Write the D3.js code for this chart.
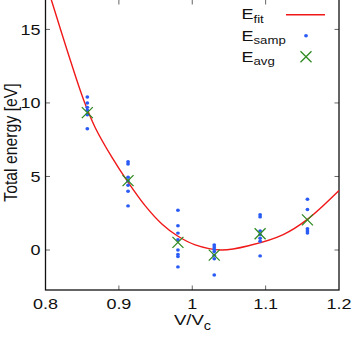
<!DOCTYPE html>
<html>
<head>
<meta charset="utf-8">
<script src="https://cdn.jsdelivr.net/npm/d3@7"></script>
<style>
  body { margin: 0; background: #fff; }
  svg { display: block; font-family: "Liberation Sans", Arial, sans-serif; }
</style>
</head>
<body>
<svg id="chart" width="354" height="338"></svg>
<script>
// volumes (V/Vc) where the samples were taken
const volumes = [0.857, 0.9125, 0.9805, 1.03, 1.0925, 1.157]

// sampled energies, one list per volume
const sampleE = [
  [10.4, 10.0, 9.7, 9.5, 9.2, 8.25],
  [6.0, 5.85, 4.95, 4.7, 4.4, 4.0, 3.0],
  [2.7, 1.65, 1.15, 0.7, 0.0, -0.3, -0.45, -1.15],
  [0.35, 0.2, 0.05, -0.1, -0.35, -0.6, -1.7],
  [2.4, 2.25, 1.3, 1.05, 0.8, 0.6, -0.4],
  [3.45, 2.75, 1.45, 1.3, 1.15]
]

// averaged energies
const avgE = [9.34, 4.72, 0.52, -0.35, 1.1, 2.05]

// fitted curve
const fitV = [0.8, 0.808, 0.83, 0.852, 0.868, 0.89, 0.912, 0.936, 0.959, 0.98, 1.004, 1.04, 1.079, 1.124, 1.156, 1.2]
const fitE = [18.3, 17.0, 13.5, 10.2, 8.3, 6.35, 4.65, 3.0, 1.75, 0.95, 0.35, 0.0, 0.32, 1.05, 2.05, 4.05]

const xTicks = [0.8, 0.9, 1, 1.1, 1.2]
const yTicks = [0, 5, 10, 15]

const svg = d3.select("#chart")

// plot box
const boxL = 45.5, boxR = 339, boxT = -1, boxB = 290
const stretch = 1.2   // text in the reference is drawn a bit wide

const x = d3.scaleLinear().domain([0.8, 1.2]).range([boxL, boxR])
const y = d3.scaleLinear().domain([-2.72, 17.0]).range([boxB, 0])

svg.append("defs").append("clipPath").attr("id", "clip")
  .append("rect")
  .attr("x", boxL).attr("y", boxT)
  .attr("width", boxR - boxL).attr("height", boxB - boxT)

// ticks (inward, mirrored)
const tickCol = "#666"
const tickLen = 4.5
xTicks.slice(1, -1).forEach(t => {
  svg.append("line").attr("x1", x(t)).attr("x2", x(t))
    .attr("y1", boxB).attr("y2", boxB - tickLen)
    .attr("stroke", tickCol).attr("stroke-width", 1)
  svg.append("line").attr("x1", x(t)).attr("x2", x(t))
    .attr("y1", 0).attr("y2", tickLen)
    .attr("stroke", tickCol).attr("stroke-width", 1)
})
yTicks.forEach(t => {
  svg.append("line").attr("x1", boxL).attr("x2", boxL + tickLen)
    .attr("y1", y(t)).attr("y2", y(t))
    .attr("stroke", tickCol).attr("stroke-width", 1)
  svg.append("line").attr("x1", boxR).attr("x2", boxR - tickLen)
    .attr("y1", y(t)).attr("y2", y(t))
    .attr("stroke", tickCol).attr("stroke-width", 1)
})

// frame
svg.append("rect")
  .attr("x", boxL).attr("y", boxT)
  .attr("width", boxR - boxL).attr("height", boxB - boxT)
  .attr("fill", "none").attr("stroke", "#111").attr("stroke-width", 1.3)

// tick labels
function wideText(px, py, str, size, anchor) {
  return svg.append("text")
    .attr("transform", `translate(${px},${py}) scale(${stretch},1)`)
    .attr("text-anchor", anchor)
    .attr("font-size", size)
    .attr("fill", "#111")
    .text(str)
}

xTicks.forEach(t => wideText(x(t), 309, d3.format("")(t), 15, "middle"))
yTicks.forEach(t => wideText(40.5, y(t) + 5.4, t, 15, "end"))

// axis titles
const xl = svg.append("text")
  .attr("transform", `translate(192.5,325) scale(${stretch},1)`)
  .attr("text-anchor", "middle")
  .attr("font-size", 15.5)
  .attr("fill", "#111")
xl.append("tspan").text("V/V")
xl.append("tspan").attr("font-size", 12).attr("dy", 5).text("c")

svg.append("text")
  .attr("transform", `translate(16.5,142.5) scale(${stretch},1) rotate(-90)`)
  .attr("text-anchor", "middle")
  .attr("font-size", 15.8)
  .attr("fill", "#111")
  .text("Total energy [eV]")

// fit curve
const line = d3.line()
  .x((d, i) => x(fitV[i]))
  .y(d => y(d))
  .curve(d3.curveCatmullRom)

svg.append("path")
  .datum(fitE)
  .attr("clip-path", "url(#clip)")
  .attr("d", line)
  .attr("fill", "none")
  .attr("stroke", "#f01818")
  .attr("stroke-width", 1.4)

// sample points
const blue = "#2a5cf5"
const samples = []
volumes.forEach((v, i) => sampleE[i].forEach(e => samples.push([v, e])))

svg.append("g").selectAll("ellipse")
  .data(samples)
  .join("ellipse")
  .attr("cx", d => x(d[0]))
  .attr("cy", d => y(d[1]))
  .attr("rx", 1.9).attr("ry", 1.7)
  .attr("fill", blue)

// average markers
const green = "#2f8a22"
function cross(g, cx, cy, r) {
  g.append("path")
    .attr("d", `M${cx - r},${cy - r}L${cx + r},${cy + r}M${cx - r},${cy + r}L${cx + r},${cy - r}`)
    .attr("stroke", green).attr("stroke-width", 1.3).attr("fill", "none")
}
const avgG = svg.append("g")
volumes.forEach((v, i) => cross(avgG, x(v), y(avgE[i]), 5.5))

// legend
const legend = [
  { sub: "fit", yb: 19 },
  { sub: "samp", yb: 40.7 },
  { sub: "avg", yb: 61.7 }
]
legend.forEach(d => {
  const t = svg.append("text")
    .attr("transform", `translate(241.5,${d.yb}) scale(${stretch},1)`)
    .attr("font-size", 15)
    .attr("fill", "#111")
  t.append("tspan").text("E")
  t.append("tspan").attr("font-size", 11).attr("dy", 3.5).text(d.sub)
})

svg.append("line")
  .attr("x1", 286).attr("x2", 325)
  .attr("y1", 14.7).attr("y2", 14.7)
  .attr("stroke", "#f01818").attr("stroke-width", 1.4)
svg.append("ellipse")
  .attr("cx", 306).attr("cy", 35.7)
  .attr("rx", 1.9).attr("ry", 1.7)
  .attr("fill", blue)
cross(svg, 306, 56.7, 5.5)
</script>
</body>
</html>
